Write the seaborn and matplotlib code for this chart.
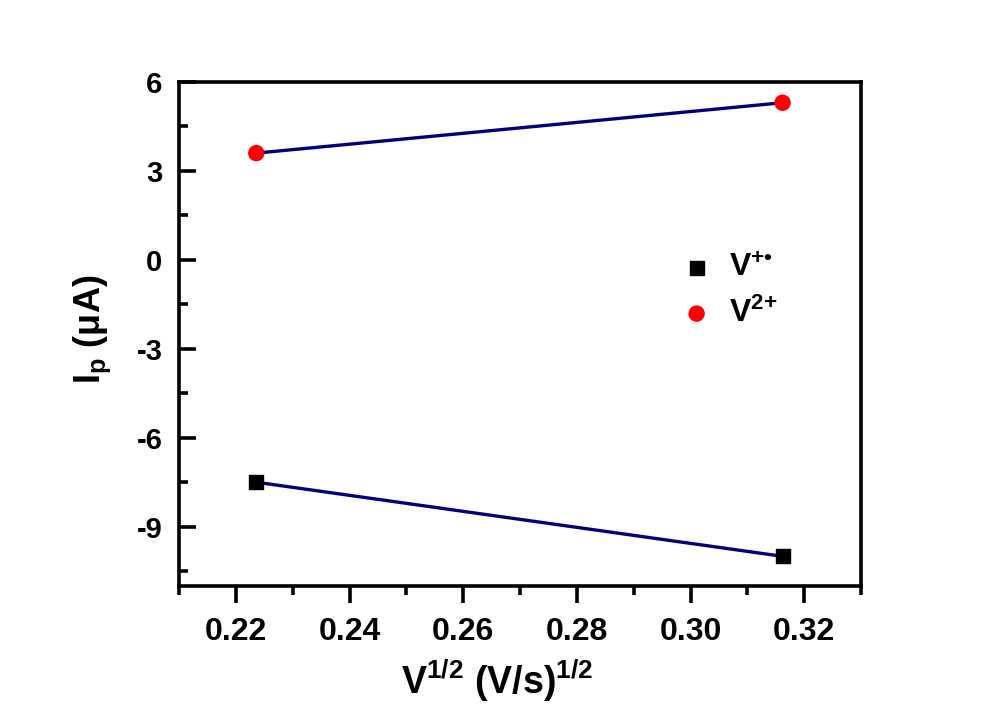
import numpy as np
import pandas as pd
import matplotlib
matplotlib.use('Agg')
import matplotlib.pyplot as plt
import seaborn as sns
from matplotlib.ticker import MultipleLocator, AutoMinorLocator

# Data: square root of scan rate vs peak current
sqrt_scan = [0.2236, 0.3162]
ip_radical = [-7.5, -10.0]   # V+•
ip_dication = [3.6, 5.3]     # V2+

df = pd.DataFrame({
    'x': sqrt_scan * 2,
    'y': ip_radical + ip_dication,
    'species': ['rad'] * 2 + ['dic'] * 2,
})

sns.set_theme(style='ticks')
plt.rcParams.update({
    'font.family': ['Liberation Sans', 'DejaVu Sans'],
    'font.weight': 'bold',
    'mathtext.fontset': 'custom',
    'mathtext.rm': 'Liberation Sans:bold',
    'mathtext.it': 'Liberation Sans:bold',
    'mathtext.bf': 'Liberation Sans:bold',
    'axes.linewidth': 2.6,
    'axes.edgecolor': 'black',
    'axes.labelcolor': 'black',
    'text.color': 'black',
    'xtick.color': 'black',
    'ytick.color': 'black',
})

fig = plt.figure(figsize=(10, 7.19), dpi=100)
ax = fig.add_axes([0.179, 0.185, 0.682, 0.701])

# fit lines
for sp in ['rad', 'dic']:
    sub = df[df['species'] == sp]
    sns.lineplot(data=sub, x='x', y='y', color='#000080', linewidth=2.4, ax=ax,
                 legend=False)

h1 = ax.scatter(sqrt_scan, ip_radical, marker='s', s=110, color='black', zorder=3,
                label='V$^{{+}•}$')
h2 = ax.scatter(sqrt_scan, ip_dication, marker='o', s=140, color='#ff0000', zorder=3,
                label='V$^{2{+}}$', edgecolors='none')

ax.set_xlim(0.21, 0.33)
ax.set_ylim(-11, 6)
ax.xaxis.set_major_locator(MultipleLocator(0.02))
ax.xaxis.set_minor_locator(AutoMinorLocator(2))
ax.yaxis.set_major_locator(MultipleLocator(3))
ax.yaxis.set_minor_locator(AutoMinorLocator(2))
ax.tick_params(axis='x', which='major', direction='out', length=12, width=2.6,
               labelsize=23, pad=10)
ax.tick_params(axis='x', which='minor', direction='out', length=6.5, width=2.6)
ax.tick_params(axis='y', which='major', direction='in', length=12, width=2.6,
               labelsize=21, pad=12)
ax.tick_params(axis='y', which='minor', direction='in', length=6.5, width=2.6)
ax.set_xticklabels([f'{v:.2f}' for v in ax.get_xticks()], fontweight='bold')
ax.set_yticklabels([f'{int(round(v))}' for v in ax.get_yticks()], fontweight='bold')

ax.set_xlabel(r'V$^{1/2}$ (V/s)$^{1/2}$', fontsize=27, fontweight='bold')
ax.set_ylabel(r'I$_{\rm p}$ (μA)', fontsize=26, fontweight='bold')
ax.xaxis.set_label_coords(0.466, -0.142)
ax.yaxis.set_label_coords(-0.097, 0.51)

for s in ax.spines.values():
    s.set_visible(True)

ax.legend(handles=[h1, h2], loc='center left', bbox_to_anchor=(0.67, 0.585),
          frameon=False, labelspacing=0.45, handletextpad=0.0,
          prop={'weight': 'bold', 'size': 23})

fig.savefig('out.png', dpi=100, facecolor='white')
